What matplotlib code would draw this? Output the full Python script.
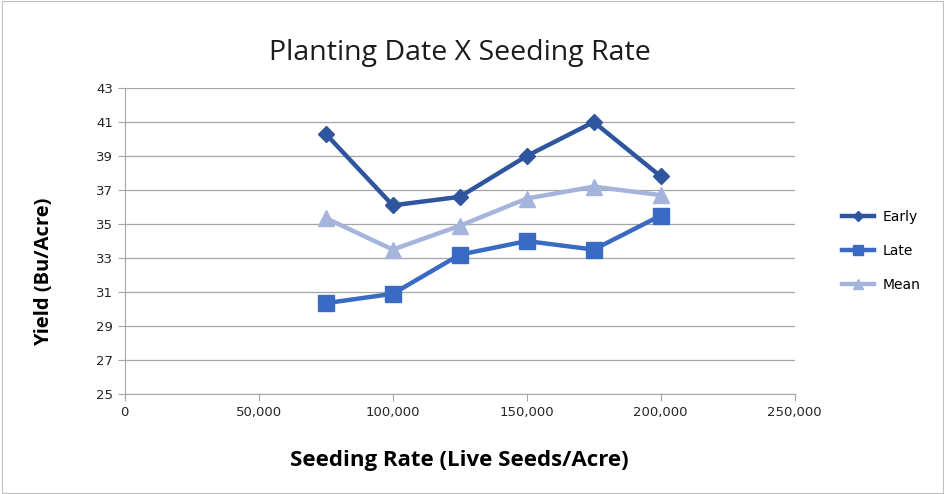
import matplotlib
matplotlib.use("Agg")
import matplotlib.pyplot as plt
from matplotlib.patches import Rectangle

seeding_rates = [75000, 100000, 125000, 150000, 175000, 200000]
early = [40.3, 36.1, 36.6, 39.0, 41.0, 37.8]
late = [30.35, 30.9, 33.2, 34.0, 33.5, 35.5]
mean = [35.35, 33.5, 34.9, 36.5, 37.2, 36.7]
series_names = ["Early", "Late", "Mean"]
x_ticks = [0, 50000, 100000, 150000, 200000, 250000]
y_ticks = [25, 27, 29, 31, 33, 35, 37, 39, 41, 43]

fig = plt.figure(figsize=(9.45, 4.94), dpi=100)
fig.patches.append(Rectangle((0.002, 0.002), 0.996, 0.996, transform=fig.transFigure,
                             fill=False, edgecolor="#BFBFBF", linewidth=0.8))
ax = fig.add_axes([0.132, 0.202, 0.709, 0.620])

ax.plot(seeding_rates, early, color="#2F559F", marker="D", markersize=8, linewidth=3.2,
        label=series_names[0], zorder=3)
ax.plot(seeding_rates, late, color="#3A6BC4", marker="s", markersize=11, linewidth=3.2,
        label=series_names[1], zorder=3)
ax.plot(seeding_rates, mean, color="#A4B4DD", marker="^", markersize=11, linewidth=3.2,
        label=series_names[2], zorder=3)

ax.set_xlim(0, 250000)
ax.set_ylim(25, 43)
ax.set_xticks(x_ticks)
ax.set_xticklabels([f"{v:,}" for v in x_ticks])
ax.set_yticks(y_ticks)
ax.grid(axis="y", color="#A6A6A6", linewidth=0.9)
ax.set_axisbelow(True)
for s in ["top", "right"]:
    ax.spines[s].set_visible(False)
for s in ["left", "bottom"]:
    ax.spines[s].set_color("#A6A6A6")
ax.tick_params(axis="both", colors="#A6A6A6", labelcolor="#262626", labelsize=9.5, length=5, direction="out")

ax.set_title("Planting Date X Seeding Rate", fontsize=20.5, family="Open Sans", color="#1a1a1a", pad=20)
ax.set_xlabel("Seeding Rate (Live Seeds/Acre)", fontsize=16, fontweight="bold", family="Open Sans", labelpad=22)
ax.set_ylabel("Yield (Bu/Acre)", fontsize=14.5, fontweight="bold", family="Open Sans")
ax.yaxis.set_label_coords(-0.105, 0.40)

leg = fig.legend(loc="center left", bbox_to_anchor=(0.878, 0.492), frameon=False, fontsize=10,
                 handlelength=2.3, handletextpad=0.6, labelspacing=1.45, markerscale=0.7)

fig.savefig("out.png", dpi=100)
